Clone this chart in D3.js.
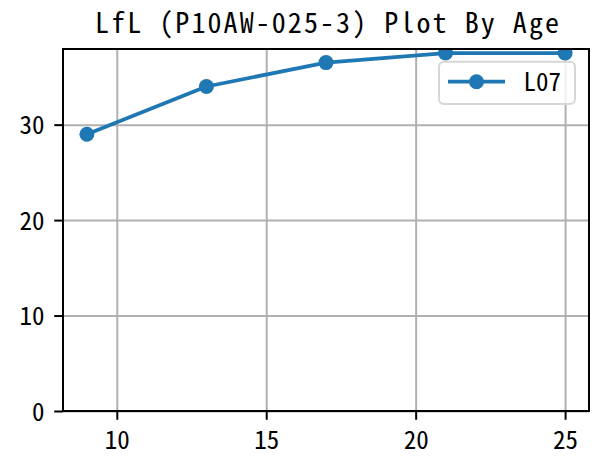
<!DOCTYPE html>
<html>
<head>
<meta charset="utf-8">
<script src="https://cdn.jsdelivr.net/npm/d3@7"></script>
<style>
  html, body { margin: 0; padding: 0; background: #ffffff; }
  svg { display: block; }
  text { font-family: "Noto Sans CJK SC", "DejaVu Sans", sans-serif; font-feature-settings: "hwid" 1; }
</style>
</head>
<body>
<div id="chart"></div>
<script>
// ---- data ----
const ages = [9, 13, 17, 21, 25];
const lflValues = [29, 34, 36.5, 37.5, 37.5];
const xTicks = [10, 15, 20, 25];
const yTicks = [0, 10, 20, 30];
const titleText = "LfL (P10AW-025-3) Plot By Age";
const seriesName = "L07";

// ---- layout ----
const W = 607, H = 459;
const axL = 63, axR = 589, axT = 49, axB = 411;
const color = "#1f77b4";
const tickCell = 12.5, titleCell = 16;

const svg = d3.select("#chart").append("svg")
  .attr("width", W).attr("height", H)
  .style("background", "#fff");

const xMin = d3.min(ages), xMax = d3.max(ages);
const xPad = (xMax - xMin) * 0.05;
const x = d3.scaleLinear().domain([xMin - xPad, xMax + xPad]).range([axL, axR]);
const yLo = d3.min(lflValues), yHi = d3.max(lflValues);
const y = d3.scaleLinear().domain([0, yHi + (yHi - yLo) * 0.05]).range([axB, axT]);

// width in half-width cells (SimHei-like monospace layout)
const cellCount = str => Array.from(str).length;

// grid
svg.append("g")
  .attr("transform", `translate(0,${axB})`)
  .call(d3.axisBottom(x).tickValues(xTicks).tickSize(-(axB - axT)).tickFormat(""))
  .call(g => g.select(".domain").remove())
  .call(g => g.selectAll("line").attr("stroke", "#b0b0b0").attr("stroke-width", 2));
svg.append("g")
  .attr("transform", `translate(${axL},0)`)
  .call(d3.axisLeft(y).tickValues(yTicks).tickSize(-(axR - axL)).tickFormat(""))
  .call(g => g.select(".domain").remove())
  .call(g => g.selectAll("line").attr("stroke", "#b0b0b0").attr("stroke-width", 2));

svg.append("clipPath").attr("id", "clip")
  .append("rect").attr("x", axL).attr("y", axT).attr("width", axR - axL).attr("height", axB - axT);

const pts = ages.map((a, i) => [a, lflValues[i]]);
const plot = svg.append("g").attr("clip-path", "url(#clip)");
plot.append("path")
  .datum(pts)
  .attr("fill", "none")
  .attr("stroke", color)
  .attr("stroke-width", 3.75)
  .attr("stroke-linejoin", "round")
  .attr("d", d3.line().x(d => x(d[0])).y(d => y(d[1])));
plot.selectAll("circle").data(pts).enter().append("circle")
  .attr("cx", d => x(d[0])).attr("cy", d => y(d[1]))
  .attr("r", 7.5).attr("fill", color);

// axes
const xAxis = svg.append("g")
  .attr("transform", `translate(0,${axB})`)
  .call(d3.axisBottom(x).tickValues(xTicks).tickSize(8.75).tickFormat(d3.format("d")));
xAxis.select(".domain").remove();
xAxis.selectAll("line").attr("stroke", "#000").attr("stroke-width", 2);
xAxis.selectAll("text")
  .attr("fill", "#000").attr("font-size", 25).attr("dy", null).attr("y", 37.5)
  .attr("text-anchor", "middle")
  .attr("lengthAdjust", "spacingAndGlyphs")
  .attr("textLength", function () { return cellCount(d3.select(this).text()) * tickCell; });

const yAxis = svg.append("g")
  .attr("transform", `translate(${axL},0)`)
  .call(d3.axisLeft(y).tickValues(yTicks).tickSize(8.75).tickFormat(d3.format("d")));
yAxis.select(".domain").remove();
yAxis.selectAll("line").attr("stroke", "#000").attr("stroke-width", 2);
yAxis.selectAll("text")
  .attr("fill", "#000").attr("font-size", 25).attr("dy", null).attr("y", 9)
  .attr("x", -18.5).attr("text-anchor", "end")
  .attr("lengthAdjust", "spacingAndGlyphs")
  .attr("textLength", function () { return cellCount(d3.select(this).text()) * tickCell; });

// spines
svg.append("rect")
  .attr("x", axL).attr("y", axT).attr("width", axR - axL).attr("height", axB - axT)
  .attr("fill", "none").attr("stroke", "#000").attr("stroke-width", 2);

// title
svg.append("text")
  .attr("x", 95).attr("y", 32.7).attr("font-size", 28).attr("fill", "#000")
  .attr("text-anchor", "start")
  .attr("lengthAdjust", "spacing")
  .attr("textLength", cellCount(titleText) * titleCell)
  .text(titleText);

// legend
const lg = svg.append("g");
lg.append("rect")
  .attr("x", 439).attr("y", 61.7).attr("width", 136).attr("height", 42.3).attr("rx", 5)
  .attr("fill", "#fff").attr("fill-opacity", 0.8)
  .attr("stroke", "#d6d6d6").attr("stroke-width", 2);
lg.append("line")
  .attr("x1", 448).attr("x2", 505).attr("y1", 81.7).attr("y2", 81.7)
  .attr("stroke", color).attr("stroke-width", 3.75);
lg.append("circle").attr("cx", 476.5).attr("cy", 81.7).attr("r", 7.5).attr("fill", color);
lg.append("text")
  .attr("x", 523.5).attr("y", 91).attr("font-size", 25).attr("fill", "#000")
  .attr("lengthAdjust", "spacingAndGlyphs")
  .attr("textLength", cellCount(seriesName) * tickCell)
  .text(seriesName);
</script>
</body>
</html>
